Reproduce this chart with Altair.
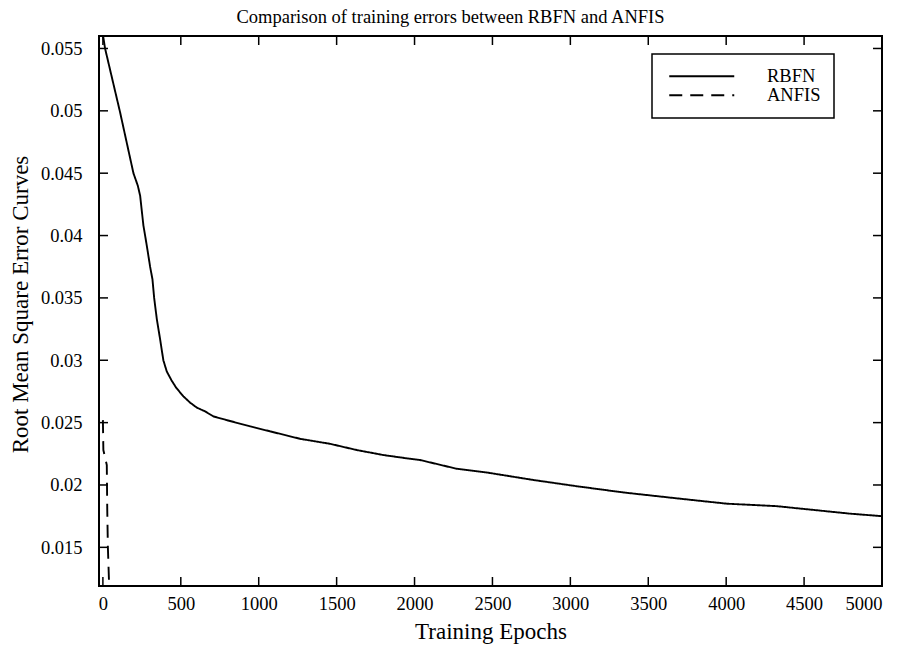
import altair as alt
import pandas as pd

# RBFN training error curve
rbfn_epochs = [0, 14, 110, 196, 224, 239, 260, 271, 288, 303, 318, 329, 346, 367, 388,
               410, 440, 470, 517, 560, 603, 656, 709, 795, 945, 1073, 1266, 1458, 1630,
               1800, 1972, 2036, 2271, 2464, 2763, 3041, 3341, 3704, 4004, 4325, 4560,
               4795, 5000]
rbfn_rmse = [0.0561, 0.0550, 0.0499, 0.0450, 0.0440, 0.0432, 0.0408, 0.0400, 0.0387,
             0.0375, 0.0365, 0.0350, 0.0333, 0.0317, 0.0300, 0.0291, 0.0284, 0.0278,
             0.0271, 0.0266, 0.0262, 0.0259, 0.0255, 0.0252, 0.0247, 0.0243, 0.0237,
             0.0233, 0.0228, 0.0224, 0.0221, 0.0220, 0.0213, 0.0210, 0.0204, 0.0199,
             0.0194, 0.0189, 0.0185, 0.0183, 0.0180, 0.0177, 0.0175]

# ANFIS training error curve
anfis_epochs = [0, 3, 25, 28, 32, 40, 44]
anfis_rmse = [0.0252, 0.0228, 0.0216, 0.0180, 0.0150, 0.0120, 0.0100]

series_names = ["RBFN", "ANFIS"]
x_ticks = [0, 500, 1000, 1500, 2000, 2500, 3000, 3500, 4000, 4500, 5000]
y_ticks = [0.015, 0.02, 0.025, 0.03, 0.035, 0.04, 0.045, 0.05, 0.055]

W, H = 783, 550
FONT = "Times New Roman, Liberation Serif, serif"

df = pd.concat([
    pd.DataFrame({"epoch": rbfn_epochs, "rmse": rbfn_rmse, "model": "RBFN"}),
    pd.DataFrame({"epoch": anfis_epochs, "rmse": anfis_rmse, "model": "ANFIS"}),
])
xt = pd.DataFrame({"tx": x_ticks})
yt = pd.DataFrame({"ty": y_ticks})

xscale = alt.Scale(domain=[-25, 5000], nice=False, zero=False)
yscale = alt.Scale(domain=[0.0119, 0.0560], nice=False, zero=False)

axis_style = dict(grid=False, ticks=False, tickSize=0, domain=False,
                  labelFont=FONT, labelFontSize=18.5, labelColor="black",
                  titleFont=FONT, titleFontSize=23, titleFontWeight="normal",
                  titleColor="black")
xaxis = alt.Axis(values=x_ticks, format="d", title="Training Epochs",
                 labelPadding=8, titlePadding=8, **axis_style)
yaxis = alt.Axis(values=y_ticks, format="~g", title="Root Mean Square Error Curves",
                 labelPadding=17, titlePadding=8, titleY=268, **axis_style)

lines = alt.Chart(df).mark_line(color="black", strokeWidth=1.9, clip=True).encode(
    x=alt.X("epoch:Q", scale=xscale, axis=xaxis),
    y=alt.Y("rmse:Q", scale=yscale, axis=yaxis),
    strokeDash=alt.StrokeDash(
        "model:N",
        scale=alt.Scale(domain=series_names, range=[[1, 0], [13, 8]]),
        sort=series_names,
        legend=alt.Legend(title=None, orient="none", legendX=553, legendY=18,
                          direction="vertical", strokeColor="black", fillColor="white",
                          padding=13, symbolType="M-6.5,0H6.5", symbolSize=100,
                          symbolOffset=27.5, symbolStrokeWidth=1.8,
                          symbolStrokeColor="black",
                          labelFont=FONT, labelFontSize=18.5, labelColor="black",
                          labelOffset=56, rowPadding=0),
    ),
    order=alt.Order("epoch:Q"),
)

tick_len = 9
bottom_ticks = alt.Chart(xt).mark_rule(color="black", strokeWidth=1.5).encode(
    x=alt.X("tx:Q", scale=xscale, axis=xaxis), y=alt.value(H), y2=alt.value(H - tick_len))
top_ticks = alt.Chart(xt).mark_rule(color="black", strokeWidth=1.5).encode(
    x=alt.X("tx:Q", scale=xscale, axis=xaxis), y=alt.value(0), y2=alt.value(tick_len))
left_ticks = alt.Chart(yt).mark_rule(color="black", strokeWidth=1.5).encode(
    y=alt.Y("ty:Q", scale=yscale, axis=yaxis), x=alt.value(0), x2=alt.value(tick_len))
right_ticks = alt.Chart(yt).mark_rule(color="black", strokeWidth=1.5).encode(
    y=alt.Y("ty:Q", scale=yscale, axis=yaxis), x=alt.value(W), x2=alt.value(W - tick_len))

chart = alt.layer(lines, bottom_ticks, top_ticks, left_ticks, right_ticks).properties(
    width=W, height=H,
    title=alt.TitleParams("Comparison of training errors between RBFN and ANFIS",
                          font=FONT, fontSize=18.5, fontWeight="normal", color="black",
                          anchor="middle", dx=-40, offset=9),
    autosize=alt.AutoSizeParams(type="none"),
    padding={"left": 91, "top": 28, "right": 10, "bottom": 58},
).configure(
    font=FONT,
    style={"guide-label": {"font": FONT, "fontSize": 18.5, "fill": "black"},
           "guide-title": {"font": FONT}},
).configure_view(
    stroke="black", strokeWidth=2
).configure_legend(
    strokeWidth=1.5
)

chart.save("out.html", embed_options={"renderer": "svg", "actions": False})
